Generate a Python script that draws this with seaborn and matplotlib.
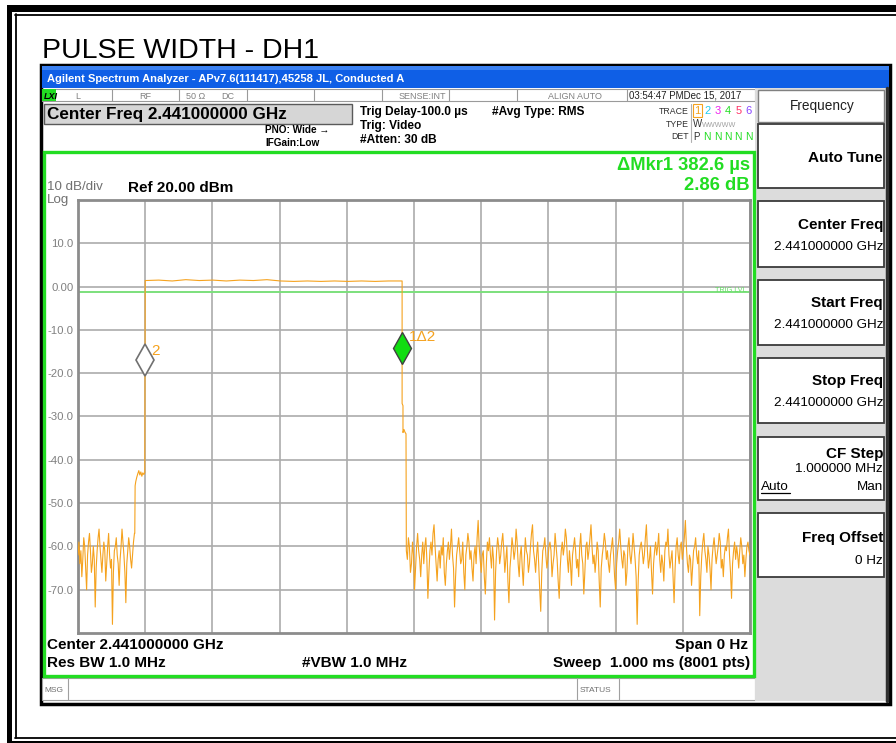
import numpy as np
import pandas as pd
import matplotlib
matplotlib.use("Agg")
import matplotlib.pyplot as plt
from matplotlib.patches import Rectangle
from matplotlib.lines import Line2D
import seaborn as sns

# ---------------- data ----------------
sweep_start_us = -100.0
sweep_stop_us = 900.0
ref_level_dbm = 20.0
bottom_level_dbm = -80.0
y_ticks = [10, 0, -10, -20, -30, -40, -50, -60, -70]
y_tick_labels = ["10.0", "0.00", "-10.0", "-20.0", "-30.0", "-40.0", "-50.0", "-60.0", "-70.0"]
x_grid_us = [-100, 0, 100, 200, 300, 400, 500, 600, 700, 800, 900]
trig_level_dbm = -1.3

pre_noise_db = [-62, -59, -64, -61, -67, -63, -58, -60, -65, -70, -62, -59, -57, -61, -66,
                -64, -60, -63, -74, -65, -61, -58, -56, -60, -63, -66, -62, -59, -61, -68,
                -64, -60, -57, -62, -65, -63, -78, -66, -61, -60, -58, -62, -64, -69, -63,
                -60, -56, -59, -62, -66, -73, -64, -61, -58, -60, -63, -65, -62, -59, -57]

rise_t_us = [-15.5, -15.0, -14.0, -12.5, -11.0, -9.5, -8.0, -6.5, -5.0, -3.5, -2.0, -0.6, 0.0]
rise_db = [-57.0, -46.0, -45.0, -44.0, -43.2, -42.5, -43.5, -42.8, -43.8, -43.0, -43.4, -43.0, 1.4]

pulse_top_db = [1.4, 1.5, 1.3, 1.6, 1.4, 1.5, 1.3, 1.5, 1.4, 1.6, 1.3, 1.2, 1.3, 1.2,
                1.3, 1.2, 1.3, 1.2, 1.3, 1.3]

fall_t_us = [382.3, 382.3, 383.6, 383.6, 385.1, 386.5, 388.1]
fall_db = [1.3, -27.0, -27.5, -33.7, -33.0, -33.6, -34.0]

post_noise_db = [
    -61, -63, -58, -60, -66, -64, -59, -62, -70, -65, -60, -57, -61, -63, -67, -62, -59, -64, -60, -58, -63, -72, -66, -61, -59, -62, -57, -55, -60, -64,
    -68, -63, -61, -65, -60, -62, -58, -66, -69, -64, -61, -59, -63, -60, -56, -62, -65, -74, -67, -62, -60, -58, -61, -64, -63, -59, -66, -70, -62, -60,
    -57, -59, -63, -61, -65, -68, -62, -60, -64, -58, -54, -60, -63, -66, -62, -61, -67, -71, -64, -59, -61, -58, -62, -65, -60, -63, -77, -66, -61, -58,
    -60, -64, -62, -59, -57, -61, -66, -63, -60, -68, -73, -65, -62, -58, -60, -63, -61, -56, -59, -64, -67, -62, -60, -65, -69, -63, -58, -61, -62, -66,
    -64, -60, -57, -55, -61, -63, -66, -62, -59, -64, -70, -75, -66, -61, -60, -58, -62, -65, -63, -60, -59, -61, -67, -64, -62, -57, -60, -63, -68, -72,
    -65, -61, -59, -62, -60, -56, -58, -63, -66, -61, -64, -69, -62, -60, -58, -61, -65, -63, -67, -60, -57, -62, -64, -71, -66, -60, -59, -63, -61, -58,
    -55, -60, -64, -62, -66, -63, -59, -61, -68, -74, -65, -62, -60, -57, -59, -63, -61, -64, -66, -62, -60, -58, -62, -67, -70, -64, -61, -59, -56, -60,
    -63, -65, -61, -62, -69, -66, -60, -58, -62, -64, -61, -57, -60, -63, -67, -78, -68, -62, -60, -59, -61, -64, -62, -58, -55, -61, -65, -63, -60, -66,
    -71, -64, -61, -59, -62, -60, -57, -63, -66, -62, -64, -68, -61, -59, -60, -56, -62, -65, -63, -61, -67, -73, -65, -60, -58, -62, -64, -60, -59, -63,
    -61, -58, -54, -60, -64, -66, -62, -63, -69, -65, -61, -60, -58, -62, -64, -61, -76, -67, -62, -59, -57, -61, -63, -66, -60, -62, -65, -70, -63, -60,
    -58, -61, -64, -62, -60, -57, -59, -65, -63, -67, -62, -60, -61, -58, -56, -62, -66, -72, -64, -61, -59, -63, -60, -62, -65, -61, -58, -60, -64, -62,
    -67, -63, -60, -59, -61, -62]

marker_t_us = [382.6, 0.0]      # marker 1 (delta), marker 2 (reference)
marker_db = [-14.1, -16.9]
marker_labels = ["1\u03942", "2"]

# build trace table
t_pre = np.linspace(sweep_start_us, -16.0, len(pre_noise_db))
t_top = np.linspace(0.0, fall_t_us[0], len(pulse_top_db))
t_post = np.linspace(388.6, sweep_stop_us, len(post_noise_db))
trace = pd.DataFrame({
    "t": np.concatenate([t_pre, rise_t_us, t_top, fall_t_us, t_post]),
    "v": np.concatenate([pre_noise_db, rise_db, pulse_top_db, fall_db, post_noise_db]),
})

# ---------------- figure ----------------
sns.set_theme(style="white")
plt.rcParams['font.family'] = ['Liberation Sans', 'DejaVu Sans']

W, H = 896, 743
fig = plt.figure(figsize=(W / 100, H / 100), dpi=100)
fig.patch.set_facecolor('white')


def R(x0, y0, x1, y1, fc='none', ec='none', lw=0, z=1):
    fig.add_artist(Rectangle((x0 / W, 1 - y1 / H), (x1 - x0) / W, (y1 - y0) / H,
                             transform=fig.transFigure, facecolor=fc, edgecolor=ec,
                             linewidth=lw, zorder=z))


def L(x0, y0, x1, y1, color, lw, z=2):
    fig.add_artist(Line2D([x0 / W, x1 / W], [1 - y0 / H, 1 - y1 / H],
                          transform=fig.transFigure, color=color, lw=lw, zorder=z))


def T(x, y, s, size, ha='left', va='baseline', color='black', weight='normal', **kw):
    fig.text(x / W, 1 - y / H, s, fontsize=size, ha=ha, va=va, color=color,
             fontweight=weight, zorder=10, **kw)


# outer page frame
R(7, 5, 900, 12, fc='black', z=1)
R(7, 5, 12, 750, fc='black', z=1)
L(15, 14.5, 900, 14.5, 'black', 1.3)
L(15.5, 14, 15.5, 738, 'black', 1.3)
L(15, 738, 900, 738, 'black', 1.3)
R(7, 741, 900, 750, fc='black', z=1)

T(42, 58, "PULSE WIDTH - DH1", 20.5)

# screenshot frame
R(41, 65, 890, 704, fc='white', ec='black', lw=2.5, z=1)
# title bar
R(42, 66, 889, 88, fc='#0F5FE6', z=2)
R(42, 66, 889, 70, fc='#3C82F2', z=2)
T(47, 82, "Agilent Spectrum Analyzer - APv7.6(111417),45258 JL, Conducted A", 8.0,
  color='white', weight='bold')

# status row
R(42, 89, 755, 101, fc='white', ec='#9A9A9A', lw=0.8, z=2)
R(42, 89, 56, 101, fc='#22DD22', z=3)
T(44, 99, "LXI", 6.5, weight='bold', style='italic')
for xd in [112, 179, 247, 314, 382, 449, 517, 627]:
    L(xd, 89, xd, 101, '#9A9A9A', 0.8, z=3)
T(78, 99, "L", 6.5, ha='center', color='#808080')
T(145, 99, "RF", 6.5, ha='center', color='#808080')
T(196, 99, "50 \u03a9", 6.5, ha='center', color='#808080')
T(228, 99, "DC", 6.5, ha='center', color='#808080')
T(446, 99, "SENSE:INT", 6.5, ha='right', color='#808080')
T(575, 99, "ALIGN AUTO", 6.5, ha='center', color='#808080')
T(629, 99, "03:54:47 PMDec 15, 2017", 7, color='#202020')

# centre frequency box
R(44, 104, 352, 124, fc='#D6D6D6', ec='#5A5A5A', lw=1.0, z=2)
T(47, 119.5, "Center Freq 2.441000000 GHz", 12.3, weight='bold')
T(265, 133, "PNO: Wide \u2192", 7.2, weight='bold')
T(265, 146, "IFGain:Low", 7.2, weight='bold')
T(360, 115, "Trig Delay-100.0 \u00b5s", 8.6, weight='bold')
T(360, 129, "Trig: Video", 8.6, weight='bold')
T(360, 143, "#Atten: 30 dB", 8.6, weight='bold')
T(492, 115, "#Avg Type: RMS", 8.6, weight='bold')

# trace legend
T(689, 114, "TRACE", 6.3, ha='right', color='#303030')
T(689, 127, "TYPE", 6.3, ha='right', color='#303030')
T(689, 139, "DET", 6.3, ha='right', color='#303030')
L(691, 104, 691, 142, '#B0B0B0', 0.8)
trace_cols = ['#F5A21E', '#22CCEE', '#EE22EE', '#22DD22', '#FF3366', '#8844FF']
for i, c in enumerate(trace_cols):
    T(697 + i * 10.3, 114.5, str(i + 1), 8, ha='center', color=c)
R(692.5, 104, 701.5, 117, ec='#F5A21E', lw=0.8, z=3)
T(693, 127, "W", 7, color='#303030')
T(702, 127, "WWWWW", 5.2, color='#A0A0A0')
T(693, 139.5, "P", 7, color='#303030')
for i in range(5):
    T(707.3 + i * 10.3, 139.5, "N", 7.4, ha='center', color='#22DD22')

# green measurement frame
R(44, 152, 754, 676, ec='#22DD22', lw=2.4, z=3)
T(750, 169.5, "\u0394Mkr1 382.6 \u00b5s", 13.2, ha='right', color='#22DD22', weight='bold')
T(750, 190.5, "2.86 dB", 13.2, ha='right', color='#22DD22', weight='bold')
T(47, 190, "10 dB/div", 9.6, color='#707070')
T(47, 202.5, "Log", 9.6, color='#707070')
T(128, 192, "Ref 20.00 dBm", 11, weight='bold')

T(47, 649, "Center 2.441000000 GHz", 11, weight='bold')
T(748, 649, "Span 0 Hz", 11, ha='right', weight='bold')
T(47, 667, "Res BW 1.0 MHz", 11, weight='bold')
T(302, 667, "#VBW 1.0 MHz", 11, weight='bold')
T(750, 667, "Sweep  1.000 ms (8001 pts)", 11, ha='right', weight='bold')

# message row
R(42, 678, 755, 700, fc='white', ec='#A0A0A0', lw=0.8, z=2)
L(68, 678, 68, 700, '#A0A0A0', 0.8, z=3)
L(577, 678, 577, 700, '#A0A0A0', 0.8, z=3)
L(619, 678, 619, 700, '#A0A0A0', 0.8, z=3)
T(44, 692, "MSG", 6, color='#707070')
T(580, 692, "STATUS", 6, color='#707070')

# soft-key panel
R(755, 88, 887, 701, fc='#DCDCDC', z=2)
L(887, 88, 887, 701, '#303030', 2.5, z=3)
R(758, 90, 884, 122, fc='white', ec='#808080', lw=1.0, z=3)
T(822, 110, "Frequency", 9.8, ha='center', color='#202020')
boxes = [(124, 188), (201, 267), (280, 345), (358, 423), (437, 500), (513, 577)]
for (y0, y1) in boxes:
    R(758, y0, 884, y1, fc='white', ec='#3A3A3A', lw=1.3, z=3)
T(883, 162, "Auto Tune", 11, ha='right', weight='bold')
T(883, 229, "Center Freq", 11, ha='right', weight='bold')
T(883, 249.5, "2.441000000 GHz", 9.7, ha='right')
T(883, 307, "Start Freq", 11, ha='right', weight='bold')
T(883, 327.5, "2.441000000 GHz", 9.7, ha='right')
T(883, 385, "Stop Freq", 11, ha='right', weight='bold')
T(883, 406.5, "2.441000000 GHz", 9.7, ha='right')
T(883, 458, "CF Step", 11, ha='right', weight='bold')
T(883, 472.5, "1.000000 MHz", 9.7, ha='right')
T(761, 490.5, "Auto", 9.7)
L(761, 492.5, 790, 492.5, 'black', 0.9, z=4)
T(883, 490.5, "Man", 9.7, ha='right')
T(883, 542, "Freq Offset", 11, ha='right', weight='bold')
T(883, 563.5, "0 Hz", 9.7, ha='right')

# ---------------- the trace axes ----------------
ax = fig.add_axes([78 / W, 1 - 633 / H, 672 / W, 433 / H])
ax.set_zorder(6)
ax.set_facecolor('white')
ax.set_xlim(sweep_start_us, sweep_stop_us)
ax.set_ylim(bottom_level_dbm, ref_level_dbm)
ax.set_xticks(x_grid_us)
ax.set_xticklabels([])
ax.set_yticks(y_ticks)
ax.set_yticklabels(y_tick_labels, fontsize=8.2, color='#808080')
ax.tick_params(axis='both', length=0)
ax.tick_params(axis='y', pad=3)
ax.grid(True, color='#ABABAB', lw=1.2)
for s in ax.spines.values():
    s.set_color('#8C8C8C')
    s.set_linewidth(2.0)

ax.axhline(trig_level_dbm, color='#7CE07C', lw=1.4, zorder=2)
ax.text(0.995, trig_level_dbm + 0.3, "TRIG LVL", transform=ax.get_yaxis_transform(),
        ha='right', va='center', fontsize=5.2, color='#66DD66')

sns.lineplot(data=trace, x='t', y='v', ax=ax, sort=False, estimator=None,
             color='#F5A21E', lw=0.8, legend=False, zorder=3)
ax.set_xlabel("")
ax.set_ylabel("")

# markers
ax.plot(marker_t_us[1], marker_db[1], marker='d', ms=16, mfc='white',
        mec='#707070', mew=1.2, zorder=5)
ax.plot(marker_t_us[0], marker_db[0], marker='d', ms=16, mfc='#11DD11',
        mec='#404040', mew=1.0, zorder=5)
ax.annotate(marker_labels[1], (marker_t_us[1], marker_db[1]), xytext=(4.5, 6.5),
            textcoords='offset points', fontsize=11, color='#F5A21E', va='center', ha='left')
ax.annotate(marker_labels[0], (marker_t_us[0], marker_db[0]), xytext=(4.5, 7.5),
            textcoords='offset points', fontsize=11, color='#F5A21E', va='center', ha='left')

fig.savefig("out.png", dpi=100)
